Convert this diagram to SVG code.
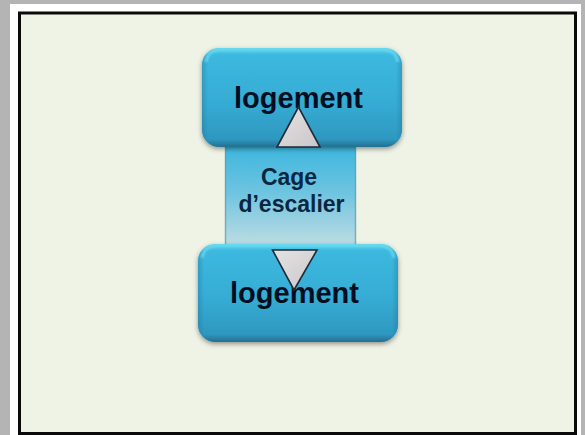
<svg xmlns="http://www.w3.org/2000/svg" width="585" height="435" viewBox="0 0 585 435">
<style>
.box{fill:url(#boxFill);filter:url(#shadow)}
.edge{fill:url(#edgeFill)}
.hl{fill:none;stroke:#6fdcf2;stroke-width:2.5;opacity:.85}
.tri{fill:url(#triFill);stroke:#1d2b3a;stroke-width:1.6;stroke-linejoin:miter}
.big{font:bold 29px "Liberation Sans",Arial,sans-serif;fill:#010e22;text-anchor:middle}
.small{font:bold 23px "Liberation Sans",Arial,sans-serif;fill:#0b2640;text-anchor:middle}
</style>
<defs>
<linearGradient id="boxFill" x1="0" y1="0" x2="0" y2="1">
<stop offset="0" stop-color="#5fd6ee"/><stop offset=".07" stop-color="#3cb8de"/><stop offset=".55" stop-color="#36acd4"/><stop offset=".92" stop-color="#2e98c0"/><stop offset="1" stop-color="#256f90"/>
</linearGradient>
<linearGradient id="edgeFill" x1="0" y1="0" x2="1" y2="0">
<stop offset="0" stop-color="#1d6f92" stop-opacity=".35"/><stop offset=".03" stop-color="#1d6f92" stop-opacity="0"/><stop offset=".97" stop-color="#1d6f92" stop-opacity="0"/><stop offset="1" stop-color="#1d6f92" stop-opacity=".35"/>
</linearGradient>
<linearGradient id="cageFill" x1="0" y1="0" x2="0" y2="1">
<stop offset="0" stop-color="#3cb6de"/><stop offset=".45" stop-color="#6cc3e0"/><stop offset="1" stop-color="#bcdce2"/>
</linearGradient>
<linearGradient id="triFill" x1="0" y1="0" x2="1" y2="1">
<stop offset="0" stop-color="#e4e4e4"/><stop offset="1" stop-color="#cbc5c8"/>
</linearGradient>
<filter id="shadow" x="-10%" y="-10%" width="120%" height="125%">
<feDropShadow dx="0" dy="2" stdDeviation="2.500" flood-color="#000" flood-opacity=".4"/>
</filter>
<filter id="soft" x="-5%" y="-5%" width="110%" height="110%"><feGaussianBlur stdDeviation="1"/></filter>
</defs>
<rect width="585" height="435" fill="#b4b4b4"/>
<rect x="10" y="4" width="571" height="431" fill="#fff"/>
<rect x="19.500" y="13" width="556" height="420.500" fill="#eff3e6" stroke="#0a0a0a" stroke-width="3"/>
<g id="cage">
<rect x="225" y="146" width="131" height="99" fill="url(#cageFill)"/>
<path d="M225.500 146V245M355.500 146V245" stroke="#5a9fb5" stroke-width="1.500" opacity=".7"/>
<text class="small" x="289" y="185">Cage</text>
<text class="small" x="291.500" y="212">d’escalier</text>
</g>
<g id="logement-haut">
<rect class="box" x="202" y="48" width="200" height="99" rx="17"/>
<rect class="edge" x="202" y="48" width="200" height="99" rx="17"/>
<path class="hl" d="M206 62Q208 50 220 49.500H384Q396 50 398 62" filter="url(#soft)"/>
<text class="big" x="298.500" y="108">logement</text>
</g>
<g id="logement-bas">
<rect class="box" x="198" y="244" width="200" height="98" rx="17"/>
<rect class="edge" x="198" y="244" width="200" height="98" rx="17"/>
<path class="hl" d="M202 258Q204 246 216 245.500H380Q392 246 394 258" filter="url(#soft)"/>
<text class="big" x="294.500" y="303">logement</text>
</g>
<g id="connectors">
<polygon class="tri" points="298.500,107 277,147 320,147"/>
<polygon class="tri" points="272.500,250 317,250 294,290"/>
</g>
</svg>
